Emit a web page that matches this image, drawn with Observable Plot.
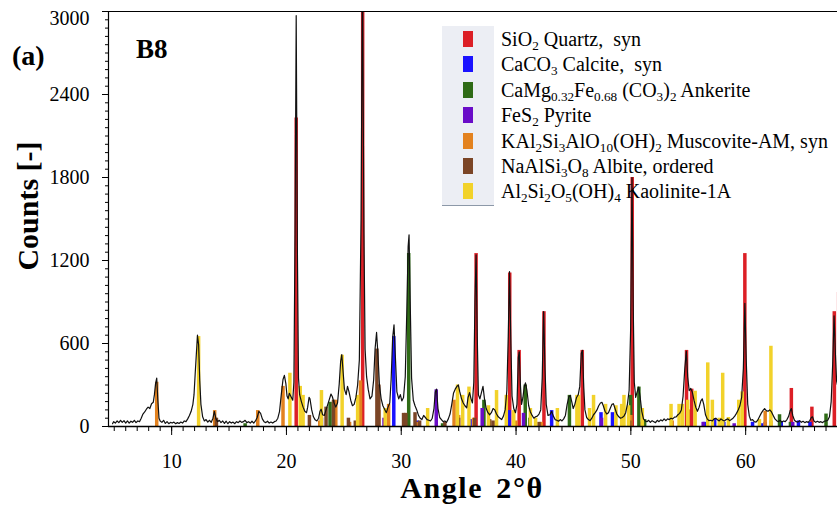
<!DOCTYPE html>
<html>
<head>
<meta charset="utf-8">
<script src="https://cdn.jsdelivr.net/npm/d3@7"></script>
<script src="https://cdn.jsdelivr.net/npm/@observablehq/plot@0.6"></script>
<style>
  html, body { margin: 0; padding: 0; background: #fff; }
  #wrap { position: relative; width: 837px; height: 507px; overflow: hidden; font-family: "Liberation Serif", "Times New Roman", serif; color: #000; }
  #wrap svg { position: absolute; left: 0; top: 0; }
  .lbl { position: absolute; font-weight: bold; white-space: nowrap; line-height: 1; }
  .strip { position: absolute; left: 442px; top: 26px; width: 52px; height: 179px; background: #eceef4; border-bottom: 1px solid #8c98a8; }
  .sw { position: absolute; left: 463px; width: 10px; height: 16px; }
  .lt { position: absolute; left: 501px; font-size: 20px; line-height: 26px; white-space: nowrap; }
  .lt sub { font-size: 0.66em; vertical-align: -0.28em; line-height: 0; }
</style>
</head>
<body>
<div id="wrap"></div>
<script>
// ---------- data ----------
const phaseNames = [
  "SiO2 Quartz, syn", "CaCO3 Calcite, syn", "CaMg0.32Fe0.68 (CO3)2 Ankerite",
  "FeS2 Pyrite", "KAl2Si3AlO10(OH)2 Muscovite-AM, syn", "NaAlSi3O8 Albite, ordered",
  "Al2Si2O5(OH)4 Kaolinite-1A"
];
const phaseColors = ["#dc1f26", "#1a12ff", "#2f6b16", "#6a0cc8", "#e3821f", "#7b4526", "#f2d22a"];

// reference sticks: [angle 2θ, counts]
const quartz = [[20.85,2230],[26.64,3400],[36.52,1250],[39.45,1110],[40.27,550],[42.43,830],[45.77,550],[50.12,1800],[54.85,550],[55.3,270],[59.93,1250],[63.98,275],[65.77,140],[67.72,830],[68.1,970]];
const calcite = [[23.05,60],[29.35,650],[31.4,40],[36.0,50],[39.4,115],[43.1,115],[47.4,100],[48.4,100],[56.4,30],[57.3,55],[58.1,30],[60.6,30],[61.4,20],[63.1,30],[64.6,40],[65.6,30]];
const ankerite = [[16.4,20],[23.8,175],[30.65,1250],[33.6,20],[37.2,190],[40.8,300],[41.2,60],[44.65,225],[49.98,225],[50.7,285],[51.2,50],[62.95,85],[63.9,30],[67.0,90]];
const pyrite = [[28.5,60],[33.05,265],[37.05,130],[40.65,95],[47.45,60],[56.3,30],[59.0,20],[61.7,30],[64.1,30]];
const muscovite = [[8.7,320],[13.75,115],[17.5,115],[19.7,290],[22.9,40],[24.3,190],[25.5,30],[26.45,330],[28.05,115],[28.9,160],[31.3,30],[34.6,190],[35.0,80],[36.3,60],[37.7,40],[40.0,40],[42.2,30],[45.4,40],[50.0,80],[53.6,40],[55.0,120],[61.7,110],[62.2,40]];
const albite = [[13.9,60],[22.0,80],[23.45,140],[24.1,190],[25.4,60],[26.0,40],[27.88,560],[28.05,300],[30.2,95],[30.4,95],[31.2,100],[31.6,40],[33.8,30],[35.0,60],[36.4,60],[37.7,50],[38.0,40],[42.0,30],[49.9,40],[51.0,30]];
const kaolinite = [[12.35,650],[20.3,385],[21.2,290],[21.45,225],[23.05,260],[24.85,515],[26.2,225],[28.6,130],[32.3,130],[34.9,300],[35.35,225],[35.9,285],[37.6,150],[38.3,260],[39.15,225],[39.8,115],[41.25,130],[41.7,60],[43.6,130],[45.3,225],[45.45,225],[46.4,130],[46.75,225],[47.8,160],[48.7,150],[49.2,160],[49.4,225],[49.8,150],[51.0,130],[53.5,160],[54.2,160],[54.5,160],[54.95,190],[55.6,255],[56.7,460],[57.1,190],[57.7,60],[58.0,385],[58.5,65],[59.4,190],[59.7,250],[61.2,50],[62.2,580]];
const phases = [quartz, calcite, ankerite, pyrite, muscovite, albite, kaolinite];

// measured pattern: [angle 2θ, counts]
const trace = [[4.85,20],[4.95,35],[5.1,25],[5.25,40],[5.4,28],[5.55,45],[5.7,30],[5.85,42],[6.0,25],[6.15,40],[6.3,25],[6.45,38],[6.6,30],[6.75,45],[6.9,28],[7.05,40],[7.2,35],[7.35,60],[7.5,90],[7.65,105],[7.8,125],[7.95,140],[8.1,130],[8.25,165],[8.4,175],[8.5,230],[8.6,310],[8.7,350],[8.8,190],[8.9,60],[9.0,40],[9.15,30],[9.3,45],[9.45,22],[9.6,35],[9.75,20],[9.9,30],[10.05,25],[10.2,32],[10.35,20],[10.5,28],[10.65,22],[10.8,32],[10.95,25],[11.1,40],[11.25,35],[11.4,55],[11.55,80],[11.7,110],[11.85,160],[11.95,230],[12.05,380],[12.15,520],[12.25,660],[12.35,590],[12.45,330],[12.55,160],[12.7,70],[12.85,40],[13.0,50],[13.15,32],[13.3,45],[13.45,30],[13.6,60],[13.72,110],[13.85,60],[14.0,35],[14.15,45],[14.3,28],[14.45,40],[14.6,22],[14.75,38],[14.9,20],[15.05,35],[15.2,25],[15.35,32],[15.5,20],[15.65,35],[15.8,28],[15.95,40],[16.1,30],[16.25,35],[16.4,45],[16.55,28],[16.7,35],[16.85,25],[17.0,38],[17.15,25],[17.3,40],[17.45,65],[17.6,110],[17.75,95],[17.9,55],[18.05,35],[18.2,28],[18.35,38],[18.5,25],[18.65,32],[18.8,25],[18.95,35],[19.1,40],[19.25,60],[19.4,110],[19.55,230],[19.7,340],[19.82,370],[19.95,310],[20.05,220],[20.15,200],[20.25,240],[20.4,215],[20.55,190],[20.65,320],[20.75,1400],[20.85,2970],[20.95,1300],[21.05,350],[21.15,230],[21.3,180],[21.45,140],[21.6,110],[21.75,100],[21.85,140],[21.97,210],[22.05,200],[22.2,120],[22.35,70],[22.5,48],[22.65,40],[22.8,60],[22.92,110],[23.02,125],[23.15,85],[23.3,80],[23.45,120],[23.6,160],[23.75,200],[23.88,235],[24.0,215],[24.15,170],[24.3,140],[24.45,170],[24.6,310],[24.72,470],[24.82,520],[24.95,380],[25.05,270],[25.2,230],[25.32,290],[25.45,250],[25.6,190],[25.75,150],[25.9,160],[26.05,210],[26.2,300],[26.35,480],[26.5,1500],[26.62,3300],[26.75,1400],[26.85,560],[26.98,360],[27.12,270],[27.28,200],[27.45,220],[27.6,340],[27.72,560],[27.85,680],[27.97,520],[28.1,300],[28.25,200],[28.4,150],[28.55,125],[28.7,100],[28.85,140],[29.0,170],[29.12,340],[29.25,640],[29.37,735],[29.48,520],[29.62,250],[29.78,200],[29.92,230],[30.05,185],[30.2,210],[30.35,360],[30.48,820],[30.6,1300],[30.68,1385],[30.78,900],[30.9,350],[31.05,190],[31.2,150],[31.35,120],[31.5,80],[31.65,60],[31.8,50],[31.95,80],[32.1,65],[32.25,50],[32.4,45],[32.55,40],[32.7,60],[32.85,130],[32.97,250],[33.07,270],[33.2,130],[33.35,65],[33.5,50],[33.65,35],[33.8,40],[33.95,30],[34.1,55],[34.25,90],[34.4,160],[34.55,240],[34.7,270],[34.85,290],[34.97,300],[35.1,250],[35.25,200],[35.4,170],[35.55,150],[35.7,135],[35.82,210],[35.95,245],[36.08,200],[36.2,170],[36.32,320],[36.42,900],[36.52,1240],[36.62,650],[36.72,230],[36.85,200],[37.0,250],[37.12,290],[37.25,200],[37.4,130],[37.55,100],[37.7,85],[37.85,100],[38.0,130],[38.15,120],[38.3,90],[38.45,70],[38.6,60],[38.75,50],[38.9,75],[39.05,120],[39.2,260],[39.32,650],[39.43,1120],[39.55,600],[39.65,220],[39.8,130],[39.95,100],[40.08,160],[40.2,500],[40.28,540],[40.38,300],[40.48,160],[40.6,210],[40.72,290],[40.82,315],[40.95,260],[41.1,150],[41.25,105],[41.4,80],[41.55,60],[41.7,70],[41.85,75],[42.0,90],[42.15,120],[42.28,350],[42.4,830],[42.52,420],[42.63,160],[42.78,80],[42.95,85],[43.1,110],[43.25,75],[43.4,50],[43.55,45],[43.7,38],[43.85,50],[44.0,40],[44.15,55],[44.3,80],[44.45,160],[44.6,215],[44.72,225],[44.85,180],[44.98,130],[45.12,160],[45.27,210],[45.42,230],[45.55,290],[45.68,530],[45.78,550],[45.9,280],[46.0,120],[46.15,65],[46.3,50],[46.45,42],[46.6,60],[46.75,85],[46.9,100],[47.05,120],[47.2,150],[47.35,170],[47.48,175],[47.6,150],[47.75,110],[47.9,90],[48.05,100],[48.2,130],[48.35,160],[48.48,165],[48.62,130],[48.78,90],[48.95,70],[49.1,60],[49.25,65],[49.4,75],[49.55,100],[49.7,160],[49.85,260],[49.98,700],[50.1,1800],[50.2,900],[50.3,320],[50.42,210],[50.55,250],[50.68,285],[50.8,220],[50.95,110],[51.1,55],[51.25,40],[51.4,35],[51.55,45],[51.7,30],[51.85,42],[52.0,35],[52.15,28],[52.3,45],[52.45,35],[52.6,48],[52.75,40],[52.9,55],[53.05,42],[53.2,55],[53.35,50],[53.5,60],[53.65,55],[53.8,68],[53.95,70],[54.1,85],[54.25,95],[54.4,120],[54.55,220],[54.7,420],[54.83,545],[54.95,360],[55.08,260],[55.22,275],[55.35,250],[55.5,190],[55.65,140],[55.8,110],[55.95,140],[56.1,185],[56.22,200],[56.35,160],[56.5,85],[56.65,55],[56.8,42],[56.95,45],[57.1,40],[57.25,55],[57.4,60],[57.55,48],[57.7,40],[57.85,55],[58.0,45],[58.15,40],[58.3,50],[58.45,55],[58.6,42],[58.75,50],[58.9,60],[59.05,75],[59.2,95],[59.35,120],[59.5,150],[59.65,210],[59.8,420],[59.93,890],[60.05,480],[60.18,160],[60.32,75],[60.45,45],[60.6,50],[60.75,35],[60.9,32],[61.05,45],[61.2,70],[61.35,95],[61.5,115],[61.65,130],[61.8,115],[61.95,110],[62.1,120],[62.25,105],[62.4,80],[62.55,55],[62.7,42],[62.85,35],[63.0,45],[63.15,32],[63.3,40],[63.45,35],[63.6,50],[63.75,75],[63.88,115],[63.98,130],[64.1,80],[64.25,45],[64.4,35],[64.55,32],[64.7,42],[64.85,30],[65.0,38],[65.15,28],[65.3,35],[65.45,30],[65.6,45],[65.72,65],[65.82,70],[65.95,40],[66.1,30],[66.25,38],[66.4,30],[66.55,35],[66.7,28],[66.85,38],[67.0,40],[67.15,45],[67.3,70],[67.45,180],[67.58,450],[67.7,800],[67.82,520],[67.92,330],[68.0,300]];

const xMajor = [10, 20, 30, 40, 50, 60];
const xMinor = d3.range(5, 69, 1);
const yMajor = [0, 600, 1200, 1800, 2400, 3000];
const yMinor = d3.range(0, 3001, 60);

// ---------- chart ----------
const rows = phases.flatMap((p, i) => p.map(([a, c]) => ({a, c, phase: phaseNames[i], color: phaseColors[i]})));
const pts = trace.map(([a, c]) => ({a, c}));

const plot = Plot.plot({
  width: 837,
  height: 507,
  marginLeft: 108,
  marginRight: 0,
  marginTop: 11,
  marginBottom: 81,
  x: {domain: [4.5, 68], axis: null},
  y: {domain: [0, 3000], axis: null},
  style: {fontFamily: "Liberation Serif", fontSize: "20px", color: "#000", background: "transparent", overflow: "visible"},
  marks: [
    Plot.ruleX(rows, {x: "a", y1: 0, y2: "c", stroke: "color", strokeWidth: 3.5, clip: true}),
    Plot.line(pts, {x: "a", y: "c", stroke: "#111", strokeWidth: 1.2, clip: true}),
    Plot.ruleY([0], {stroke: "#000", strokeWidth: 1.5}),
    Plot.ruleX([4.5], {stroke: "#000", strokeWidth: 1.2}),
    Plot.ruleY([3000], {stroke: "#000", strokeWidth: 1.2}),
    Plot.axisX({ticks: xMajor, tickSize: 9, tickPadding: 18, tickFormat: d => d, label: null, fontSize: 20}),
    Plot.axisX({ticks: xMinor, tickSize: 5, tickFormat: () => "", label: null}),
    Plot.axisY({ticks: yMajor, tickSize: 6, tickFormat: () => "", label: null}),
    Plot.axisY({ticks: yMinor, tickSize: 3, tickFormat: () => "", label: null}),
    Plot.text(yMajor.filter(v => v < 3000), {x: 4.5, y: d => d, text: d => String(d), textAnchor: "end", dx: -19, fontSize: 20}),
    Plot.text(yMajor.filter(v => v >= 3000), {x: 4.5, y: d => d, text: d => String(d), textAnchor: "end", dx: -19, dy: 7, fontSize: 20})
  ]
});

const wrap = document.getElementById("wrap");
wrap.appendChild(plot);

function addDiv(cls, html, style) {
  const d = document.createElement("div");
  d.className = cls;
  d.innerHTML = html;
  Object.assign(d.style, style);
  wrap.appendChild(d);
  return d;
}

// titles
addDiv("lbl", "(a)", {left: "12px", top: "42px", fontSize: "28px"});
addDiv("lbl", "B8", {left: "136px", top: "36px", fontSize: "27px"});
addDiv("lbl", "Counts [-]", {left: "28px", top: "206px", fontSize: "30px", transform: "translate(-50%, -50%) rotate(-90deg)"});
addDiv("lbl", "Angle 2°θ", {left: "472px", top: "488px", fontSize: "30px", letterSpacing: "1.6px", wordSpacing: "4px", transform: "translate(-50%, -50%)"});

// legend
addDiv("strip", "", {});
const legendHTML = [
  "SiO<sub>2</sub> Quartz,&nbsp; syn",
  "CaCO<sub>3</sub> Calcite,&nbsp; syn",
  "CaMg<sub>0.32</sub>Fe<sub>0.68</sub> (CO<sub>3</sub>)<sub>2</sub> Ankerite",
  "FeS<sub>2</sub> Pyrite",
  "KAl<sub>2</sub>Si<sub>3</sub>AlO<sub>10</sub>(OH)<sub>2</sub> Muscovite-AM, syn",
  "NaAlSi<sub>3</sub>O<sub>8</sub> Albite, ordered",
  "Al<sub>2</sub>Si<sub>2</sub>O<sub>5</sub>(OH)<sub>4</sub> Kaolinite-1A"
];
legendHTML.forEach((h, i) => {
  const cy = 39 + 25.4 * i;
  addDiv("sw", "", {top: (cy - 8) + "px", background: phaseColors[i]});
  addDiv("lt", h, {top: (cy - 13) + "px"});
});
</script>
</body>
</html>
